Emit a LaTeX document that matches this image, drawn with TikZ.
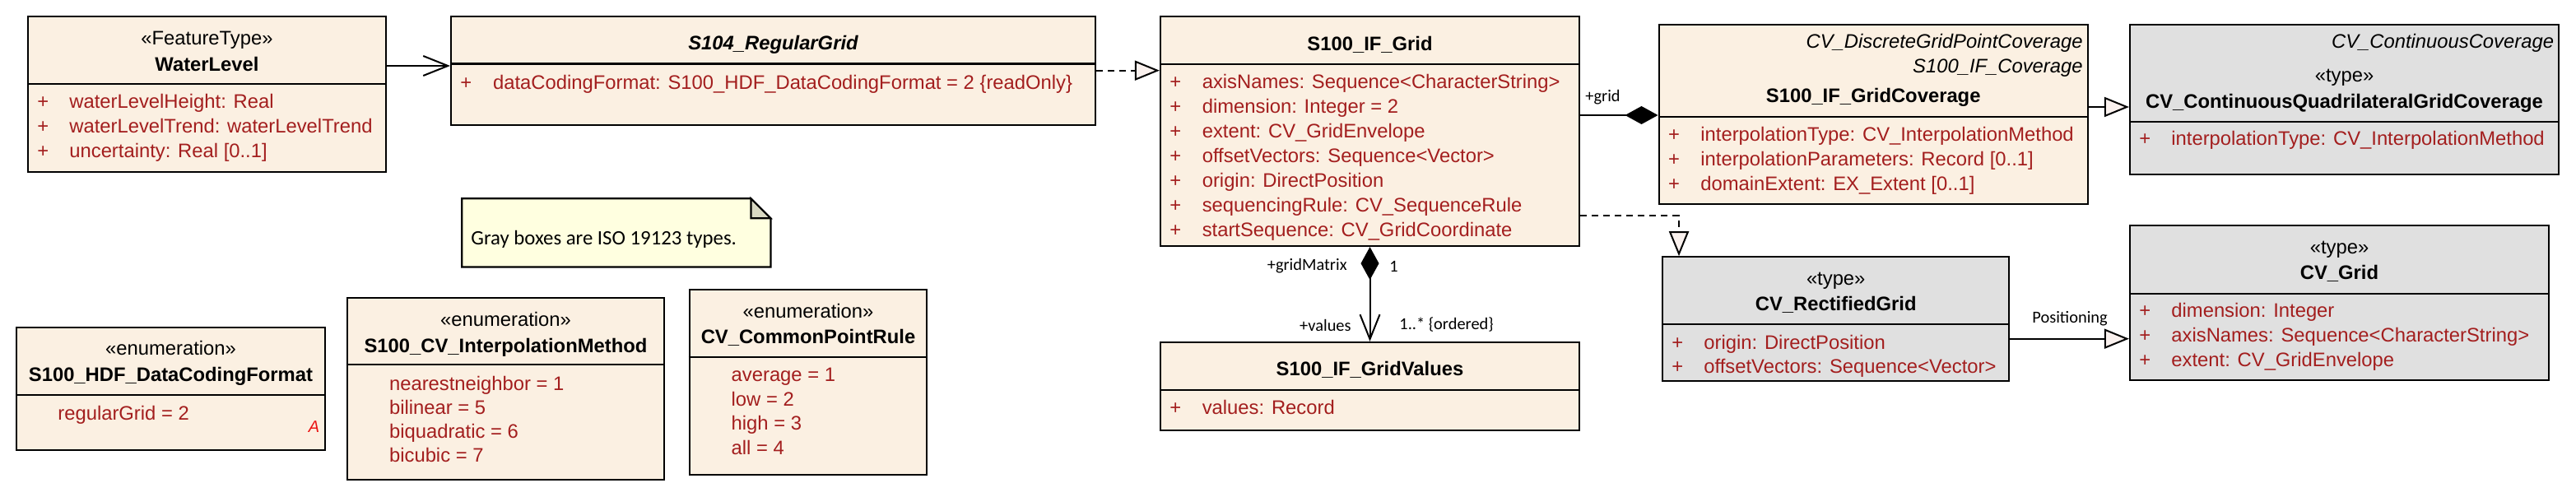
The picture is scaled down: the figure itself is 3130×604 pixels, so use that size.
\documentclass[tikz,border=0pt]{standalone}
\usepackage{fontspec}
\setmainfont{Liberation Sans}
\newfontfamily\labfont{Carlito}
\usetikzlibrary{arrows.meta,fit}
\definecolor{beige}{RGB}{251,240,226}
\definecolor{grayfill}{RGB}{224,224,224}
\definecolor{notefill}{RGB}{255,255,224}
\definecolor{foldfill}{RGB}{216,216,194}
\definecolor{attrc}{RGB}{163,30,30}
\definecolor{trifill}{RGB}{250,241,238}
\definecolor{redA}{RGB}{235,20,20}
\newcommand\fs{\fontsize{11.9}{14}\selectfont}
\newcommand\lfs{\labfont\fontsize{10.2}{12}\selectfont}
\newcommand\nfs{\labfont\fontsize{12.4}{15}\selectfont}
\newcommand\umlcls[7]{%
  \node[boxst, fill=#7, fit={(#2,#3) (#4,#5)}] (#1) {};
  \draw[divst] (#1.west |- 0,#6) -- (#1.east |- 0,#6);}
\tikzset{
  boxst/.style={draw, line width=1.1pt, inner sep=0pt},
  divst/.style={line width=1.1pt},
  txt/.style={inner sep=0pt, text height=8.3pt, text depth=0pt, font=\fs},
  ster/.style={txt},
  ttl/.style={txt, font=\fs\bfseries},
  ttli/.style={txt, font=\fs\bfseries\itshape},
  par/.style={txt, font=\fs\itshape, anchor=east},
  plus/.style={txt, anchor=west, text=attrc},
  attr/.style={txt, anchor=west, text=attrc},
  lbl/.style={inner sep=0pt, text height=7.1pt, text depth=0pt, font=\lfs},
  conn/.style={line width=1pt},
  dsh/.style={line width=1pt, dash pattern=on 4pt off 3pt},
  gen/.style={-{Triangle[length=15pt,width=12pt,fill=trifill]}},
  nav/.style={-{Straight Barb[length=15pt,width=12pt]}},
  comp/.style={-{Diamond[length=20pt,width=11pt]}},
}
\begin{document}
\begin{tikzpicture}[x=0.5pt,y=-0.5pt]
\useasboundingbox (0,0) rectangle (3130,604);

% WaterLevel
\umlcls{wl}{34}{20}{469}{209}{101.7}{beige}
\node[ster] (wl-s) at (251.5,46.7) {«FeatureType»};
\node[ttl] (wl-t) at (251.5,78.3) {WaterLevel};
\node[plus] (wl-p1) at (45,123) {+};
\node[plus] (wl-p2) at (45,153) {+};
\node[plus] (wl-p3) at (45,183) {+};
\node[attr] (wl-a1) at (84,123) {waterLevelHeight: Real};
\node[attr] (wl-a2) at (84,153) {waterLevelTrend: waterLevelTrend};
\node[attr] (wl-a3) at (84,183) {uncertainty: Real [0..1]};

% S104_RegularGrid
\umlcls{s104}{548}{20}{1331}{152.3}{77.5}{beige}
\node[ttli] (s104-t) at (939.5,52) {S104\_RegularGrid};
\node[plus] (s104-p1) at (559,100) {+};
\node[attr] (s104-a1) at (598.7,100) {dataCodingFormat: S100\_HDF\_DataCodingFormat = 2 \{readOnly\}};

% S100_IF_Grid
\umlcls{grid}{1410}{20}{1919}{299}{78.3}{beige}
\node[ttl] (grid-t) at (1664.5,53.3) {S100\_IF\_Grid};
\node[plus] (grid-p1) at (1421,99) {+};
\node[plus] (grid-p2) at (1421,129) {+};
\node[plus] (grid-p3) at (1421,159) {+};
\node[plus] (grid-p4) at (1421,189) {+};
\node[plus] (grid-p5) at (1421,219) {+};
\node[plus] (grid-p6) at (1421,249) {+};
\node[plus] (grid-p7) at (1421,279) {+};
\node[attr] (grid-a1) at (1460.4,99) {axisNames: Sequence<CharacterString>};
\node[attr] (grid-a2) at (1460.4,129) {dimension: Integer = 2};
\node[attr] (grid-a3) at (1460.4,159) {extent: CV\_GridEnvelope};
\node[attr] (grid-a4) at (1460.4,189) {offsetVectors: Sequence<Vector>};
\node[attr] (grid-a5) at (1460.4,219) {origin: DirectPosition};
\node[attr] (grid-a6) at (1460.4,249) {sequencingRule: CV\_SequenceRule};
\node[attr] (grid-a7) at (1460.4,279) {startSequence: CV\_GridCoordinate};

% S100_IF_GridCoverage
\umlcls{cov}{2015.6}{30}{2536.8}{248.3}{141.7}{beige}
\node[par] (cov-q1) at (2531,50) {CV\_DiscreteGridPointCoverage};
\node[par] (cov-q2) at (2531,80) {S100\_IF\_Coverage};
\node[ttl] (cov-t) at (2276.2,116.7) {S100\_IF\_GridCoverage};
\node[plus] (cov-p1) at (2026.6,163) {+};
\node[plus] (cov-p2) at (2026.6,193) {+};
\node[plus] (cov-p3) at (2026.6,223) {+};
\node[attr] (cov-a1) at (2066,163) {interpolationType: CV\_InterpolationMethod};
\node[attr] (cov-a2) at (2066,193) {interpolationParameters: Record [0..1]};
\node[attr] (cov-a3) at (2066,223) {domainExtent: EX\_Extent [0..1]};

% CV_ContinuousQuadrilateralGridCoverage
\umlcls{cqgc}{2588}{30}{3109}{212.3}{147.7}{grayfill}
\node[par] (cqgc-q1) at (3103.4,50) {CV\_ContinuousCoverage};
\node[ster] (cqgc-s) at (2848.5,91.7) {«type»};
\node[ttl] (cqgc-t) at (2848.5,123.3) {CV\_ContinuousQuadrilateralGridCoverage};
\node[plus] (cqgc-p1) at (2599,168.3) {+};
\node[attr] (cqgc-a1) at (2638,168.3) {interpolationType: CV\_InterpolationMethod};

% CV_Grid
\umlcls{cvg}{2588}{274}{3097}{462.3}{356.7}{grayfill}
\node[ster] (cvg-s) at (2842.5,300) {«type»};
\node[ttl] (cvg-t) at (2842.5,330.7) {CV\_Grid};
\node[plus] (cvg-p1) at (2599,376.7) {+};
\node[plus] (cvg-p2) at (2599,406.7) {+};
\node[plus] (cvg-p3) at (2599,436.7) {+};
\node[attr] (cvg-a1) at (2638,376.7) {dimension: Integer};
\node[attr] (cvg-a2) at (2638,406.7) {axisNames: Sequence<CharacterString>};
\node[attr] (cvg-a3) at (2638,436.7) {extent: CV\_GridEnvelope};

% CV_RectifiedGrid
\umlcls{rect}{2020.2}{312.3}{2441.2}{462.7}{394.3}{grayfill}
\node[ster] (rect-s) at (2230.7,338.3) {«type»};
\node[ttl] (rect-t) at (2230.7,369.3) {CV\_RectifiedGrid};
\node[plus] (rect-p1) at (2031,416) {+};
\node[plus] (rect-p2) at (2031,445) {+};
\node[attr] (rect-a1) at (2070,416) {origin: DirectPosition};
\node[attr] (rect-a2) at (2070,445) {offsetVectors: Sequence<Vector>};

% S100_IF_GridValues
\umlcls{gv}{1410}{416}{1919}{522.7}{474}{beige}
\node[ttl] (gv-t) at (1664.5,448.3) {S100\_IF\_GridValues};
\node[plus] (gv-p1) at (1421,495) {+};
\node[attr] (gv-a1) at (1460.4,495) {values: Record};

% S100_HDF_DataCodingFormat
\umlcls{hdf}{20}{397.7}{395}{546.7}{480}{beige}
\node[ster] (hdf-s) at (207.5,423.3) {«enumeration»};
\node[ttl] (hdf-t) at (207.5,455) {S100\_HDF\_DataCodingFormat};
\node[attr] (hdf-a1) at (70,501.7) {regularGrid = 2};
\node[inner sep=0pt, text height=7pt, text depth=0pt, font=\fontsize{10}{12}\selectfont\itshape, text=redA] (hdf-A) at (381.5,518.3) {A};

% S100_CV_InterpolationMethod
\umlcls{im}{421.7}{362.3}{807.3}{582.7}{443.3}{beige}
\node[ster] (im-s) at (614.5,388.3) {«enumeration»};
\node[ttl] (im-t) at (614.5,420) {S100\_CV\_InterpolationMethod};
\node[attr] (im-a1) at (472.7,466) {nearestneighbor = 1};
\node[attr] (im-a2) at (472.7,495) {bilinear = 5};
\node[attr] (im-a3) at (472.7,524.3) {biquadratic = 6};
\node[attr] (im-a4) at (472.7,553.3) {bicubic = 7};

% CV_CommonPointRule
\umlcls{cpr}{837.7}{352.3}{1126}{576.7}{434}{beige}
\node[ster] (cpr-s) at (982,378.3) {«enumeration»};
\node[ttl] (cpr-t) at (982,409.3) {CV\_CommonPointRule};
\node[attr] (cpr-a1) at (888.3,455) {average = 1};
\node[attr] (cpr-a2) at (888.3,485) {low = 2};
\node[attr] (cpr-a3) at (888.3,514) {high = 3};
\node[attr] (cpr-a4) at (888.3,544) {all = 4};

% Note
\node[inner sep=0pt, fit={(561.7,241.7) (936,324)}] (note) {};
\draw[boxst, fill=notefill] (note.north west) -- ([xshift=-12pt]note.north east)
  -- ([yshift=-12pt]note.north east) -- (note.south east) -- (note.south west) -- cycle;
\draw[boxst, fill=foldfill, line join=miter] ([xshift=-12pt]note.north east)
  -- ([xshift=-12pt,yshift=-12pt]note.north east) -- ([yshift=-12pt]note.north east) -- cycle;
\node[anchor=west, inner sep=0pt, text height=8.7pt, text depth=0pt, font=\nfs] (note-t) at (572,288.3) {Gray boxes are ISO 19123 types.};

% Connectors
\draw[conn, nav] (wl.east |- 0,80) -- (s104.west |- 0,80);
\draw[dsh, gen] (s104.east |- 0,85.7) -- (grid.west |- 0,85.7);
\draw[conn, comp] (grid.east |- 0,140) -- (cov.west |- 0,140);
\draw[conn, {Diamond[length=20pt,width=11pt]}-{Straight Barb[length=15pt,width=12pt]}] (grid.south) -- (gv.north);
\draw[dsh, gen] (grid.east |- 0,262) -| (rect.north -| 2040,0);
\draw[conn, gen] (cov.east |- 0,130) -- (cqgc.west |- 0,130);
\draw[conn, gen] (rect.east |- 0,411.7) -- (cvg.west |- 0,411.7);

% Connector labels
\node[lbl, anchor=west] (lb-grid) at (1926,116.7) {+grid};
\node[lbl, anchor=east] (lb-gm) at (1637,321.7) {+gridMatrix};
\node[lbl, anchor=west] (lb-one) at (1688,323) {1};
\node[lbl, anchor=east] (lb-val) at (1642,395.7) {+values};
\node[lbl, anchor=west] (lb-ord) at (1700,393) {1..* \{ordered\}};
\node[lbl, anchor=west] (lb-pos) at (2469,385) {Positioning};
\end{tikzpicture}
\end{document}
